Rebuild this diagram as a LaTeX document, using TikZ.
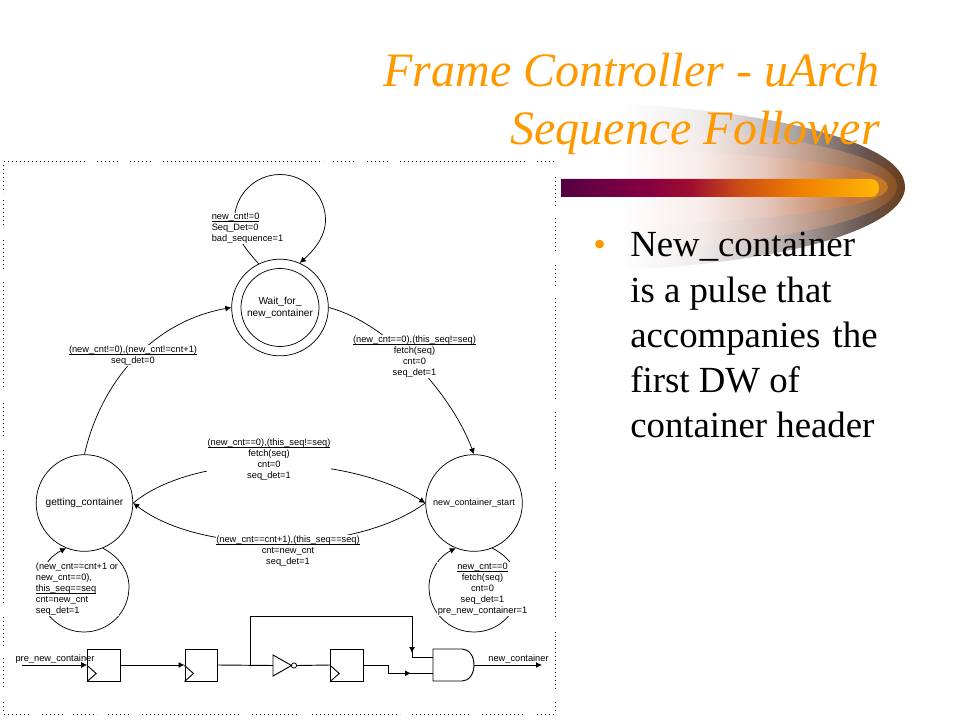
\documentclass[tikz,border=0pt]{standalone}
\usepackage{fontspec}
\setmainfont{Liberation Serif}
\newfontfamily\lblfam{Liberation Sans}
\usetikzlibrary{arrows.meta,calc}
\definecolor{ttl}{HTML}{FF9900}
\newcommand\ulin[1]{\underline{\raisebox{0pt}[\height][0pt]{#1}}}
\pgfdeclarehorizontalshading{swooshA}{100bp}{color(0bp)=(white);color(25bp)=(white);
 rgb(39bp)=(.94,.925,.925);rgb(51bp)=(.78,.75,.75);rgb(68bp)=(.40,.33,.31);rgb(75bp)=(.42,.24,.10);color(100bp)=(white)}
\pgfdeclarehorizontalshading{swooshB}{100bp}{color(0bp)=(white);color(25bp)=(white);
 rgb(40bp)=(.95,.92,.91);rgb(52bp)=(.85,.75,.72);rgb(70bp)=(.58,.42,.31);rgb(75bp)=(.54,.31,.12);color(100bp)=(white)}
\pgfdeclarehorizontalshading{swooshC}{100bp}{color(0bp)=(white);color(25bp)=(white);
 rgb(40bp)=(.97,.93,.92);rgb(52bp)=(.90,.78,.74);rgb(68bp)=(.74,.47,.30);rgb(75bp)=(.78,.47,.12);color(100bp)=(white)}
\pgfdeclarehorizontalshading{barshade}{100bp}{rgb(0bp)=(.33,0,.25);rgb(25bp)=(.33,0,.25);
 rgb(31bp)=(.42,0,.27);rgb(39bp)=(.53,0,.25);rgb(45.3bp)=(.62,.05,.19);rgb(53.1bp)=(.80,.30,.08);
 rgb(62.6bp)=(.94,.50,0);rgb(75bp)=(1,.72,.02);rgb(100bp)=(1,.72,.02)}
\tikzset{
 lbl/.style={font=\lblfam\fontsize{6.95}{8.25}\selectfont,align=center,fill=white,inner sep=.4pt},
 lblL/.style={lbl,align=left},
 bare/.style={font=\lblfam\fontsize{6.95}{8.25}\selectfont,align=center,inner sep=0pt},
 state/.style={circle,draw,line width=.55pt,minimum size=72.5pt,inner sep=0pt,align=center,font=\lblfam\fontsize{6.8}{9}\selectfont},
 edge/.style={line width=.55pt},
 tip/.style={edge,-{Latex[length=4.5pt,width=4.5pt]}},
 wire/.style={line width=.7pt},
 wiretip/.style={wire,-{Latex[length=4.5pt,width=4.5pt]}},
 ff/.style={rectangle,draw,line width=.7pt,minimum width=24.5pt,minimum height=24pt,inner sep=0pt},
 dots/.style={line width=.6pt,dash pattern=on .7pt off 2.3pt},
 title/.style={font=\fontsize{36}{43.5}\selectfont\itshape,text=ttl,anchor=base east,inner sep=0pt},
 body/.style={font=\fontsize{27.6}{33.6}\selectfont,anchor=base west,inner sep=0pt,align=left},
}
\begin{document}
\begin{tikzpicture}[x=.75pt,y=-.75pt]
\useasboundingbox (0,0) rectangle (960,720);
\fill[white] (0,0) rectangle (960,720);
% swoosh
\shade[shading=swooshA] (620,104) .. controls (760,110) and (905,140) .. (905,187) .. controls (905,225) and (800,262) .. (620,270) -- cycle;
\shade[shading=swooshB] (620,126) .. controls (760,130) and (897,150) .. (897,187) .. controls (897,222) and (760,245) .. (620,250) -- cycle;
\shade[shading=swooshC] (620,150) .. controls (760,152) and (888,165) .. (888,187) .. controls (888,208) and (760,222) .. (620,226) -- cycle;
\shade[shading=barshade] (561,179) -- (871,179) .. controls (876,179) and (879,183) .. (879,188) .. controls (879,193) and (876,197) .. (871,197) -- (561,197) -- cycle;
% dotted frame
\foreach \a/\b in {4/87,97/120,130/152,163/323,333/355,367/388,400/527,537/555}
  \draw[dots] (\a,161.5) -- (\b,161.5);
\foreach \a/\b in {4/30,42/63,73/97,108/130,142/240,252/300,312/400,412/470,482/525,537/555}
  \draw[dots] (\a,714) -- (\b,714);
\foreach \a/\b in {165/193,200/228,240/270,282/390,403/438,450/603,617/648,658/688,702/713}
  \draw[dots] (3.5,\a) -- (3.5,\b);
\foreach \a/\b in {177/207,218/253,265/287,298/400,412/470,482/560,572/620,632/690,702/713}
  \draw[dots] (555,\a) -- (555,\b);
% states
\node[state] (wait) at (280,307.5) {};
\node[circle,draw,line width=.55pt,minimum size=58.5pt,inner sep=0pt,align=center,font=\lblfam\fontsize{7.6}{9}\selectfont] (waitin) at (280,307.5) {Wait\_for\_\\new\_container};
\node[state,font=\lblfam\fontsize{7.6}{9}\selectfont] (get) at (84.5,503) {getting\_container};
\node[state] (nstart) at (474,503) {new\_container\_start};
% loop helper points
\coordinate (tl) at (234.5,220); \coordinate (tt) at (280,174.5); \coordinate (tr) at (325.5,220);
\coordinate (gr) at (129,587); \coordinate (gb) at (84,632); \coordinate (gl) at (39,587);
\coordinate (nr) at (519,587); \coordinate (nb) at (474,632); \coordinate (nl) at (429,587);
% connectors
\draw[tip] (wait.116) .. controls (248,252) and (234.5,236) .. (tl) .. controls (234.5,195) and (255,174.5) .. (tt)
  .. controls (305,174.5) and (325.5,195) .. (tr) .. controls (325.5,238) and (312,252) .. (wait.66);
\draw[tip] (get.90) .. controls (100,385) and (150,322) .. (wait.180);
\draw[tip] (wait.0) .. controls (385,322) and (450,390) .. (nstart.90);
\draw[tip] (get.0) .. controls (195,452) and (345,452) .. (nstart.180);
\draw[tip] (nstart.180) .. controls (355,555) and (200,555) .. (get.0);
\draw[tip] (get.-68) .. controls (118,556) and (129,570) .. (gr) .. controls (129,612) and (109,632) .. (gb)
  .. controls (59,632) and (39,612) .. (gl) .. controls (39,570) and (50,556) .. (get.-112);
\draw[tip] (nstart.-68) .. controls (508,556) and (519,570) .. (nr) .. controls (519,612) and (499,632) .. (nb)
  .. controls (449,632) and (429,612) .. (nl) .. controls (429,570) and (440,556) .. (nstart.-112);
% labels
\node[lblL] (l1) at (247.5,228.5) {\ulin{new\_cnt!=0}\\Seq\_Det=0\\bad\_sequence=1};
\node[lbl] (l2) at (133,355.5) {\ulin{(new\_cnt!=0),(new\_cnt!=cnt+1)}\\seq\_det=0};
\node[lbl] (l3) at (414.5,356.5) {\ulin{(new\_cnt==0),(this\_seq!=seq)}\\fetch(seq)\\cnt=0\\seq\_det=1};
\node[lbl] (l4) at (269,459.5) {\ulin{(new\_cnt==0),(this\_seq!=seq)}\\fetch(seq)\\cnt=0\\seq\_det=1};
\node[lbl] (l5) at (288,551) {\ulin{(new\_cnt==cnt+1),(this\_seq==seq)}\\cnt=new\_cnt\\seq\_det=1};
\node[lblL] (l6) at (77,589) {(new\_cnt==cnt+1 or\\new\_cnt==0),\\\ulin{this\_seq==seq}\\cnt=new\_cnt\\seq\_det=1};
\node[lbl] (l7) at (482.5,589) {\ulin{new\_cnt==0}\\fetch(seq)\\cnt=0\\seq\_det=1\\pre\_new\_container=1};
% circuit
\node[ff] (f1) at (104,665) {};
\node[ff] (f2) at (201.3,665) {};
\node[ff] (f3) at (347,665) {};
\foreach \f in {f1,f2,f3}
  \draw[wire] ($(\f.south west)+(0,-16)$) -- ($(\f.south west)+(9,-8)$) -- (\f.south west);
\coordinate (pin) at (22,665);
\coordinate (and1) at (433,657.7); \coordinate (and2) at (433,673.3);
\coordinate (andO) at (474,665);
\coordinate (andT) at (433,649); \coordinate (andB) at (433,681);
\coordinate (invL) at (273,665.5); \coordinate (invT) at (273,655); \coordinate (invB) at (273,676); \coordinate (invP) at (291.5,665.5);
\coordinate (bub) at (294,665.5);
\coordinate (br) at (250,665); \coordinate (br1) at (250,616); \coordinate (br2) at (412,616);
\coordinate (br3) at (412,653); \coordinate (br4) at (412,657.7);
\coordinate (d1) at (388,665); \coordinate (d2) at (388,673.3); \coordinate (d3) at (411,673.3);
\coordinate (out) at (542,665);
\draw[wiretip] (pin) -- (f1.west);
\draw[wiretip] (f1.east) -- (f2.west);
\draw[wire] (f2.east) -- (invL);
\draw[wire,line join=miter] (invT) -- (invP) -- (invB) -- cycle;
\node[circle,draw,line width=.6pt,minimum size=3.9pt,inner sep=0pt] (bubble) at (bub) {};
\draw[wire] (bubble.east) -- (f3.west);
\draw[wire] (br) -- (br1) -- (br2) -- (br3);
\draw[wiretip] (br2) -- (br3);
\draw[wire] (br3) -- (br4) -- (and1);
\draw[wire] (f3.east) -- (d1) -- (d2) -- (and2);
\draw[wiretip] (d2) -- (d3);
\draw[wire] (andT) -- (andB) -- (462,681) .. controls (469,681) and (474,674) .. (andO) .. controls (474,656) and (469,649) .. (462,649) -- cycle;
\draw[wiretip] (andO) -- (out);
\node[bare] (pl) at (55,659) {pre\_new\_container};
\node[bare] (ol) at (518.5,659) {new\_container};
% title and body
\node[title] (t1) at (880,87) {Frame Controller - uArch};
\node[title] (t2) at (880,145) {Sequence Follower};
\node[font=\fontsize{27}{33.6}\selectfont,text=ttl,anchor=base west,inner sep=0pt] (bul) at (593,257) {•};
\node[body] (b1) at (630,257) {New\_container};
\node[body] (b2) at (630,302) {is a pulse that};
\node[body] (b3) at (630,347) {\makebox[185.5pt][s]{accompanies the}};
\node[body] (b4) at (630,392) {first DW of};
\node[body] (b5) at (630,437) {container header};
\end{tikzpicture}
\end{document}
